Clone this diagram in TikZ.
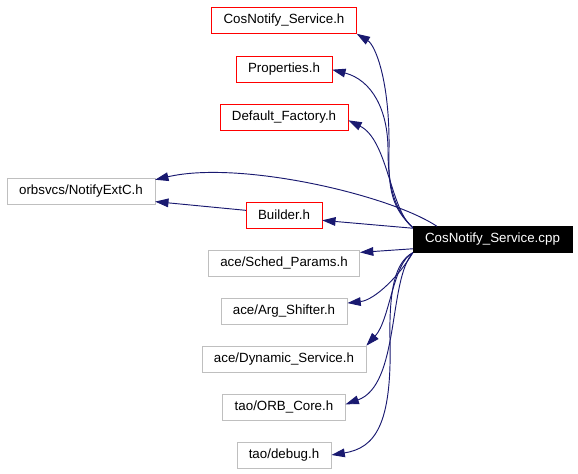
\documentclass[tikz,border=0pt]{standalone}
\usepackage{fontspec}
\setmainfont{Liberation Sans}
\usepackage{xcolor}
\usetikzlibrary{arrows.meta, positioning}
\definecolor{edgeblue}{RGB}{25,25,112}
\definecolor{boxgray}{RGB}{191,191,191}

\begin{document}
\begin{tikzpicture}[x=0.75pt, y=-0.75pt,
    file/.style={draw=boxgray, fill=white, font=\fontsize{10}{12}\selectfont, inner xsep=9pt, inner ysep=0pt, minimum height=19.5pt},
    docfile/.style={file, draw=red},
    mainfile/.style={file, draw=black, fill=black, text=white},
    edge/.style={edgeblue, line width=0.7pt, -{Triangle[length=10pt, width=6.5pt]}}]
    \useasboundingbox (0,0) rectangle (578,474);

    % Source file and the headers it includes
    \node[mainfile] (cpp) at (492.5,239.5) {CosNotify\_Service.cpp};
    \foreach \name/\y/\kind/\label in {svc/20.5/docfile/{CosNotify\_Service.h}, props/69/docfile/{Properties.h}, factory/117/docfile/{Default\_Factory.h}, builder/215/docfile/{Builder.h}, sched/263/file/{ace/Sched\_Params.h}, argsh/311/file/{ace/Arg\_Shifter.h}, dynsvc/359/file/{ace/Dynamic\_Service.h}, orbcore/407/file/{tao/ORB\_Core.h}, debug/455/file/{tao/debug.h}} {
        \node[\kind] (\name) at (284,\y) {\label};
    }
    \node[file] (notify) at (81,191) {orbsvcs/NotifyExtC.h};

    % Include edges
    \draw[edge] ([yshift=-1pt]cpp.north west) .. controls (392,208) and (388,190) .. (389,150) .. controls (390,80) and (375,45) .. (svc.south east);
    \draw[edge] ([yshift=-1pt]cpp.north west) .. controls (394,210) and (388,185) .. (388,150) .. controls (388,110) and (372,80) .. ([yshift=-0.5pt]props.east);
    \draw[edge] ([yshift=-1pt]cpp.north west) .. controls (390,210) and (388,140) .. ([yshift=-2.5pt]factory.east);
    \draw[edge] ([xshift=18pt]cpp.north west) .. controls (390,195) and (240,160) .. ([yshift=-1.5pt]notify.north east);
    \draw[edge] ([yshift=3.5pt]builder.west) -- ([yshift=2pt]notify.south east);
    \draw[edge] ([yshift=-1.5pt]cpp.north west) -- ([yshift=-4pt]builder.east);
    \draw[edge] ([yshift=3pt]cpp.south west) -- ([yshift=-2pt]sched.north east);
    \draw[edge] (cpp.south west) .. controls (400,275) and (375,300) .. ([yshift=-4pt]argsh.north east);
    \draw[edge] (cpp.south west) .. controls (393,262) and (390,320) .. (dynsvc.north east);
    \draw[edge] (cpp.south west) .. controls (388,280) and (400,385) .. ([yshift=2pt]orbcore.east);
    \draw[edge] (cpp.south west) .. controls (395,262) and (389,290) .. (390,340) .. controls (392,425) and (375,448) .. (debug.east);
\end{tikzpicture}
\end{document}
